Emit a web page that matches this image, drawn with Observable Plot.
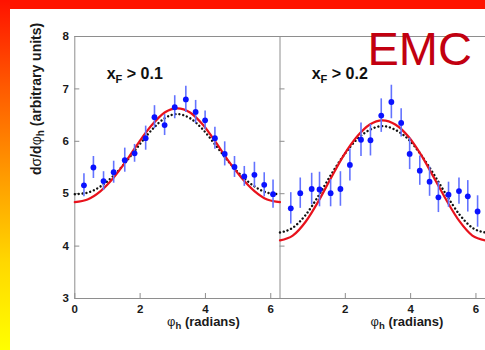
<!DOCTYPE html>
<html>
<head>
<meta charset="utf-8">
<script src="https://cdn.jsdelivr.net/npm/d3@7"></script>
<script src="https://cdn.jsdelivr.net/npm/@observablehq/plot@0.6"></script>
<style>
html, body { margin: 0; padding: 0; background: #fff; overflow: hidden; }
#wrap { position: relative; width: 485px; height: 350px; overflow: hidden; background: #fff; font-family: "Liberation Sans", Arial, sans-serif; }
#topbar { position: absolute; left: 0; top: 0; width: 485px; height: 9px; background: #ff1400; z-index: 5; }
#leftbar { position: absolute; left: 0; top: 0; width: 10px; height: 350px; z-index: 6;
  background: linear-gradient(to bottom, #ff1200 0%, #ff5a00 25%, #ff9a00 50%, #ffd800 75%, #ffff00 100%); }
.panel { position: absolute; top: 0; }
#overlay { position: absolute; left: 0; top: 0; z-index: 4; }
</style>
</head>
<body>
<div id="wrap">
  <div id="p1" class="panel"></div>
  <div id="p2" class="panel"></div>
  <svg id="overlay" width="485" height="350"></svg>
  <div id="topbar"></div>
  <div id="leftbar"></div>
</div>
<script>
// ---- data ----
const yTicks = [3, 4, 5, 6, 7, 8];
const xTicks1 = [0, 2, 4, 6];
const xTicks2 = [2, 4, 6];

// panel 1: xF > 0.1
const phi1 = [0.28, 0.57, 0.88, 1.19, 1.53, 1.83, 2.17, 2.44, 2.75, 3.06, 3.40, 3.70, 3.99, 4.29, 4.59, 4.89, 5.19, 5.50, 5.80, 6.07];
const val1 = [5.16, 5.50, 5.24, 5.41, 5.64, 5.77, 6.06, 6.46, 6.31, 6.65, 6.80, 6.56, 6.40, 6.06, 5.76, 5.51, 5.33, 5.36, 5.17, 4.99];
const err1 = [0.22, 0.21, 0.18, 0.21, 0.23, 0.17, 0.23, 0.22, 0.20, 0.22, 0.25, 0.22, 0.18, 0.21, 0.23, 0.20, 0.19, 0.24, 0.23, 0.27];

// panel 2: xF > 0.2
const phi2 = [0.33, 0.62, 0.97, 1.21, 1.55, 1.85, 2.14, 2.48, 2.77, 3.10, 3.41, 3.71, 3.97, 4.28, 4.58, 4.85, 5.16, 5.48, 5.75, 6.05];
const val2 = [4.72, 5.01, 5.09, 5.08, 5.01, 5.09, 5.55, 6.03, 6.02, 6.49, 6.75, 6.35, 5.76, 5.44, 5.23, 4.93, 4.98, 5.05, 4.95, 4.66];
const err2 = [0.30, 0.29, 0.30, 0.33, 0.26, 0.33, 0.31, 0.32, 0.30, 0.32, 0.32, 0.27, 0.30, 0.28, 0.28, 0.29, 0.24, 0.25, 0.30, 0.30];

// curves, read at sample angles
const curvePhi = [0, 0.39, 0.79, 1.18, 1.57, 1.96, 2.36, 2.75, 3.14, 3.53, 3.93, 4.32, 4.71, 5.11, 5.50, 5.89, 6.2832];
const red1 = [4.84, 4.89, 5.05, 5.30, 5.62, 5.98, 6.31, 6.55, 6.63, 6.55, 6.31, 5.98, 5.62, 5.30, 5.05, 4.89, 4.84];
const dot1 = [4.99, 5.02, 5.14, 5.34, 5.61, 5.92, 6.22, 6.44, 6.52, 6.44, 6.22, 5.92, 5.61, 5.34, 5.14, 5.02, 4.99];
const red2 = [4.11, 4.20, 4.47, 4.86, 5.31, 5.74, 6.09, 6.32, 6.40, 6.32, 6.09, 5.74, 5.31, 4.86, 4.47, 4.20, 4.11];
const dot2 = [4.26, 4.35, 4.60, 4.96, 5.37, 5.74, 6.04, 6.22, 6.29, 6.22, 6.04, 5.74, 5.37, 4.96, 4.60, 4.35, 4.26];

const xDomain = [0, 2 * Math.PI];

const pts = (phi, val, err) => phi.map((p, i) => ({phi: p, v: val[i], lo: val[i] - err[i], hi: val[i] + err[i]}));
const crv = (ys) => curvePhi.map((p, i) => ({phi: p, v: ys[i]}));

const frameColor = "#8e8e8e";
const fmt = d => String(d);
const style = {
  background: "transparent", overflow: "visible", maxWidth: "none",
  fontFamily: "'Liberation Sans', Arial, sans-serif", fontSize: "11.5px", fontWeight: "bold", color: "#1a1a1a"
};

function dataMarks(phi, val, err, red, dot) {
  const d = pts(phi, val, err);
  return [
    Plot.line(crv(dot), {x: "phi", y: "v", stroke: "#111", strokeWidth: 2.4, strokeDasharray: "0.01,3.9", strokeLinecap: "round", curve: "monotone-x"}),
    Plot.line(crv(red), {x: "phi", y: "v", stroke: "#e8121c", strokeWidth: 2.2, curve: "monotone-x"}),
    Plot.ruleX(d, {x: "phi", y1: "lo", y2: "hi", stroke: "#6373ff", strokeWidth: 1.6}),
    Plot.dot(d, {x: "phi", y: "v", r: 2.9, fill: "#0a12ff", stroke: "none"})
  ];
}

const plot1 = Plot.plot({
  width: 281, height: 340,
  marginLeft: 74.3, marginRight: 1.5, marginTop: 36, marginBottom: 42,
  x: {domain: xDomain}, y: {domain: [3, 8]},
  style,
  marks: [
    Plot.frame({stroke: frameColor}),
    Plot.axisY(yTicks, {tickSize: -5, tickPadding: 11, tickFormat: fmt, stroke: frameColor, fill: "#1a1a1a", label: null}),
    Plot.axisX(xTicks1, {tickSize: -5, tickPadding: 11, tickFormat: fmt, stroke: frameColor, fill: "#1a1a1a", label: null}),
    ...dataMarks(phi1, val1, err1, red1, dot1)
  ]
});
document.getElementById("p1").style.left = "0px";
document.getElementById("p1").appendChild(plot1);

const plot2 = Plot.plot({
  width: 212, height: 340,
  marginLeft: 1.5, marginRight: 5.3, marginTop: 36, marginBottom: 42,
  x: {domain: xDomain}, y: {domain: [3, 8]},
  style,
  marks: [
    Plot.frame({anchor: "top", stroke: frameColor}),
    Plot.frame({anchor: "bottom", stroke: frameColor}),
    Plot.axisY(yTicks, {tickSize: -5, tickFormat: () => "", stroke: frameColor, label: null}),
    Plot.axisX(xTicks2, {tickSize: -5, tickPadding: 11, tickFormat: fmt, stroke: frameColor, fill: "#1a1a1a", label: null}),
    ...dataMarks(phi2, val2, err2, red2, dot2)
  ]
});
document.getElementById("p2").style.left = "278px";
document.getElementById("p2").appendChild(plot2);

// ---- text overlay ----
const ov = d3.select("#overlay").style("font-family", "'Liberation Sans', Arial, sans-serif");

// y axis title
const yl = ov.append("text").attr("transform", "translate(41,175) rotate(-90)")
  .attr("font-size", 14).attr("font-weight", "bold").attr("fill", "#1a1a1a");
yl.append("tspan").text("d");
yl.append("tspan").attr("font-weight", "normal").text("σ");
yl.append("tspan").text("/d");
yl.append("tspan").attr("font-weight", "normal").text("φ");
yl.append("tspan").attr("font-size", 10).attr("dy", 3).text("h");
yl.append("tspan").attr("dy", -3).text(" (arbitrary units)");

// x axis titles
[203.5, 407].forEach(cx => {
  const t = ov.append("text").attr("x", cx).attr("y", 325.5).attr("text-anchor", "middle")
    .attr("font-size", 13).attr("font-weight", "bold").attr("fill", "#1a1a1a");
  t.append("tspan").attr("font-weight", "normal").text("φ");
  t.append("tspan").attr("font-size", 9.5).attr("dy", 3).text("h");
  t.append("tspan").attr("dy", -3).text(" (radians)");
});

// panel labels
[[106.7, "0.1"], [311.7, "0.2"]].forEach(([x, v]) => {
  const t = ov.append("text").attr("x", x).attr("y", 79.3)
    .attr("font-size", 16).attr("font-weight", "bold").attr("fill", "#111");
  t.append("tspan").text("x");
  t.append("tspan").attr("font-size", 11).attr("dy", 4).text("F");
  t.append("tspan").attr("dy", -4).text(" > " + v);
});

// EMC
ov.append("text").attr("x", 367.5).attr("y", 65).attr("font-size", 47)
  .attr("fill", "#c20010").text("EMC");
</script>
</body>
</html>
